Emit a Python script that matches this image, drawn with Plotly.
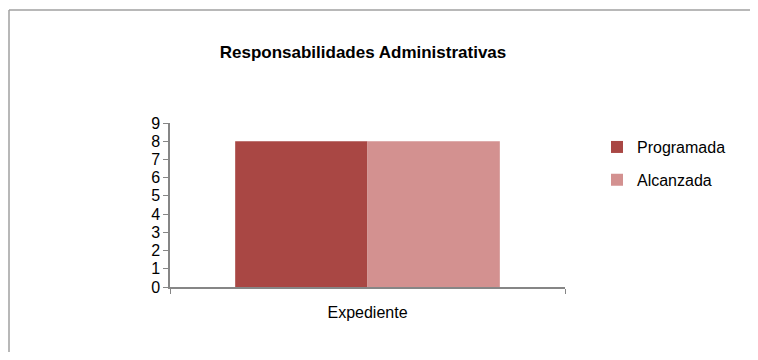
import plotly.graph_objects as go

categorias = ['Expediente']
programada = [8]
alcanzada = [8]

fig = go.Figure()
fig.add_trace(go.Bar(x=categorias, y=programada, name='Programada', legendgroup='p',
                     marker=dict(color='#A94744', line=dict(width=0))))
fig.add_trace(go.Bar(x=categorias, y=alcanzada, name='Alcanzada', legendgroup='a',
                     marker=dict(color='#D39190', line=dict(width=0))))

# page body adds an 8px margin, so keep the figure inside the window
W, H = 742, 344
fig.update_layout(
    width=W, height=H,
    margin=dict(l=162, r=185, t=115, b=65),
    paper_bgcolor='white', plot_bgcolor='white',
    font=dict(family='Liberation Sans, Arial, sans-serif', color='black'),
    title=dict(text='<b>Responsabilidades Administrativas</b>',
               x=355 / W, xanchor='center', y=1 - 44 / H, yanchor='middle',
               font=dict(size=17, color='black')),
    barmode='group', bargap=0.33, bargroupgap=0,
    legend=dict(x=1.081, y=0.957, xanchor='left', yanchor='top',
                font=dict(size=16, color='black'), tracegroupgap=9,
                itemwidth=30, bgcolor='rgba(0,0,0,0)'),
    showlegend=True,
)

fig.update_yaxes(range=[0, 9], dtick=1, showgrid=False, zeroline=False,
                 showline=True, linecolor='#868686', linewidth=1.5,
                 ticks='outside', ticklen=5, tickcolor='#868686',
                 tickfont=dict(size=16, color='black'))
fig.update_xaxes(showgrid=False, showline=True, linecolor='#868686', linewidth=1.5,
                 ticks='outside', ticklen=5, tickcolor='#868686', tickson='boundaries',
                 ticklabelstandoff=10,
                 tickfont=dict(size=16, color='black'))

# outer chart frame: only left and top edges visible in the reference
fx0 = -161 / 395
fx1 = 1 + 185 / 395
fy0 = -65 / 164
fy1 = 1 + 113 / 164
fig.add_shape(type='line', xref='paper', yref='paper',
              x0=fx0, x1=fx0, y0=fy0, y1=fy1,
              line=dict(color='#A0A0A0', width=1.5), layer='below')
fig.add_shape(type='line', xref='paper', yref='paper',
              x0=fx0, x1=fx1, y0=fy1, y1=fy1,
              line=dict(color='#A0A0A0', width=1.5), layer='below')

fig.write_html("out.html")
